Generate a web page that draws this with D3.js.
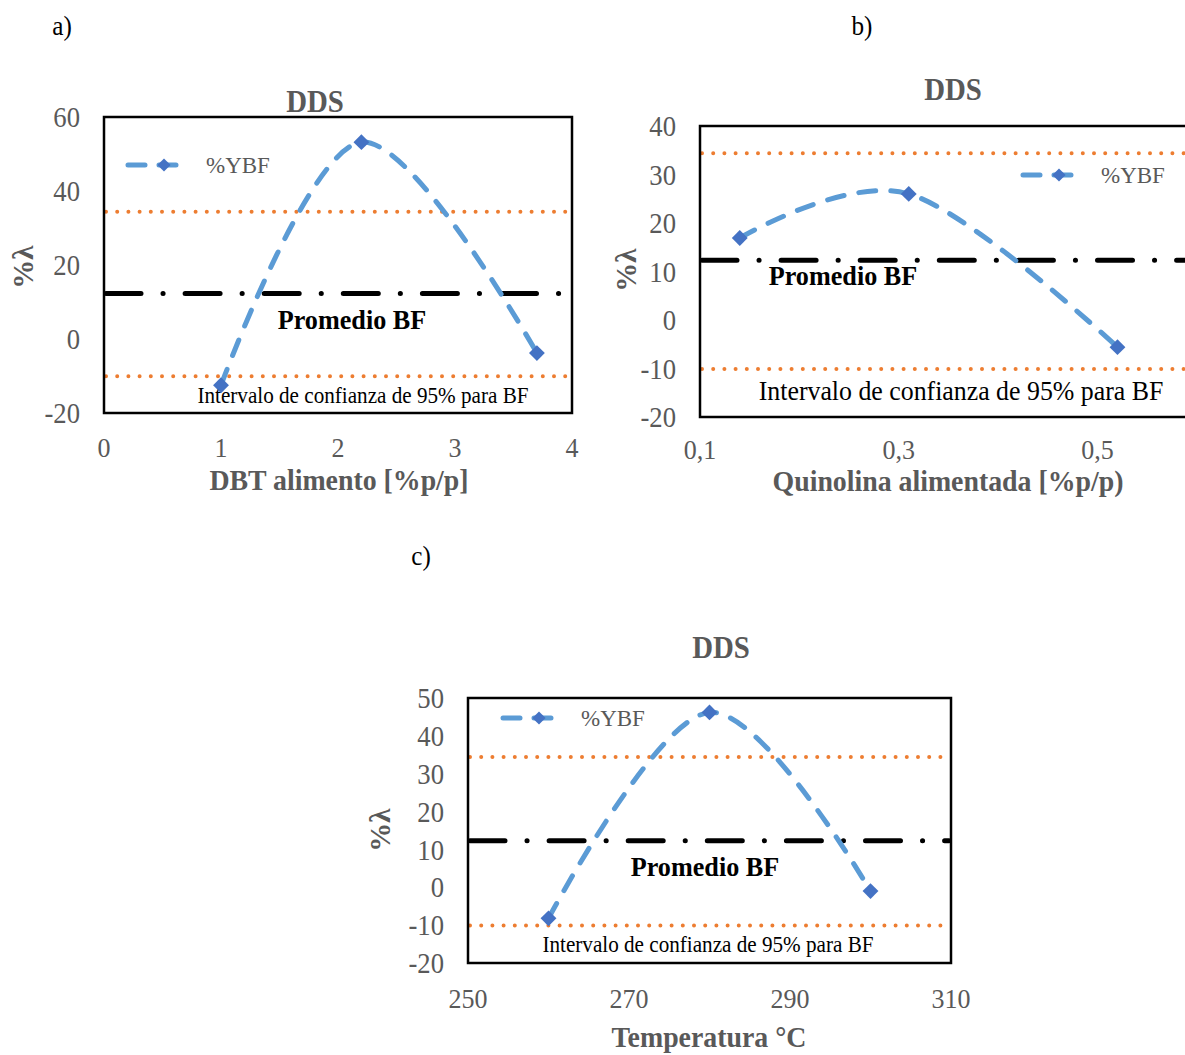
<!DOCTYPE html>
<html>
<head>
<meta charset="utf-8">
<script src="https://cdn.jsdelivr.net/npm/d3@7"></script>
<style>
  html, body { margin: 0; padding: 0; background: #fff; }
  svg { display: block; font-family: "Liberation Serif", "Times New Roman", serif; }
</style>
</head>
<body>
<svg id="chart" width="1185" height="1055"></svg>
<script>
// ---- data ----
// a) DBT in feed
const dbtFeed = [1, 2.2, 3.7];
const dbtYBF = [-12.5, 53.2, -3.8];
const dbtTicksX = [0, 1, 2, 3, 4];
const dbtTicksY = [-20, 0, 20, 40, 60];

// b) quinoline in feed
const quinFeed = [0.14, 0.31, 0.52];
const quinYBF = [16.9, 26, -5.6];
const quinTicksX = [0.1, 0.3, 0.5];
const quinTickLabelsX = ["0,1", "0,3", "0,5"];
const quinTicksY = [-20, -10, 0, 10, 20, 30, 40];

// c) temperature
const tempC = [260, 280, 300];
const tempYBF = [-8.2, 46.2, -1];
const tempTicksX = [250, 270, 290, 310];
const tempTicksY = [-20, -10, 0, 10, 20, 30, 40, 50];

// base-case (BF) mean and 95% confidence interval
const bfMean = 12.3;
const bfLow = -10.1;
const bfHigh = 34.4;

// ---- styles ----
const GRAY = "#595959";
const BLUE_LINE = "#5B9BD5";
const BLUE_MARK = "#4472C4";
const ORANGE = "#ED7D31";

const svg = d3.select("#chart");

// text helper: vertically centred on (x, y), optionally condensed horizontally
function label(parent, x, y, txt, o) {
  const sx = o.sx || 1;
  const rot = o.rotate ? " rotate(-90)" : "";
  return parent.append("text")
    .attr("transform", `translate(${x},${y})${rot} scale(${sx},1)`)
    .attr("dy", "0.35em")
    .attr("text-anchor", o.anchor || "middle")
    .attr("font-size", o.size)
    .attr("font-weight", o.bold ? "bold" : "normal")
    .attr("fill", o.fill || GRAY)
    .text(txt);
}

function panel(cfg) {
  const x = d3.scaleLinear().domain(cfg.xDomain).range([cfg.left, cfg.right]);
  const y = d3.scaleLinear().domain(cfg.yDomain).range([cfg.bottom, cfg.top]);
  const g = svg.append("g");

  // tick labels
  cfg.ticksY.forEach(d =>
    label(g, cfg.left - 24, y(d), d, { size: 29, sx: 0.92, anchor: "end" }));
  cfg.ticksX.forEach((d, i) =>
    label(g, x(d), cfg.bottom + cfg.xTickGap,
      cfg.tickLabelsX ? cfg.tickLabelsX[i] : d, { size: 28, sx: 0.93 }));

  // confidence interval (dotted orange)
  [bfLow, bfHigh].forEach(v => {
    g.append("line")
      .attr("x1", cfg.left + 2).attr("x2", cfg.right - 2)
      .attr("y1", y(v)).attr("y2", y(v))
      .attr("stroke", ORANGE).attr("stroke-width", 4)
      .attr("stroke-linecap", "round")
      .attr("stroke-dasharray", "0 11.2");
  });

  // BF mean (dash-dot black)
  g.append("line")
    .attr("x1", cfg.left + 2).attr("x2", cfg.right - 2)
    .attr("y1", y(bfMean)).attr("y2", y(bfMean))
    .attr("stroke", "#000").attr("stroke-width", 5)
    .attr("stroke-linecap", "round")
    .attr("stroke-dasharray", "35 22 0.1 22");

  // series: smoothed dashed line
  const pts = cfg.xs.map((d, i) => [d, cfg.ys[i]]);
  const line = d3.line()
    .x(d => x(d[0])).y(d => y(d[1]))
    .curve(d3.curveCardinal.tension(0));
  g.append("path")
    .attr("d", line(pts))
    .attr("fill", "none")
    .attr("stroke", BLUE_LINE).attr("stroke-width", 5)
    .attr("stroke-linecap", "round")
    .attr("stroke-dasharray", "17 15");

  // markers
  const diamond = d3.symbol().type(d3.symbolDiamond2).size(160);
  g.selectAll(".mk").data(pts).enter().append("path")
    .attr("d", diamond)
    .attr("transform", d => `translate(${x(d[0])},${y(d[1])})`)
    .attr("fill", BLUE_MARK);

  // plot frame
  g.append("rect")
    .attr("x", cfg.left).attr("y", cfg.top)
    .attr("width", cfg.right - cfg.left).attr("height", cfg.bottom - cfg.top)
    .attr("fill", "none").attr("stroke", "#000").attr("stroke-width", 2.5);

  // legend
  const L = cfg.legend;
  g.append("line")
    .attr("x1", L.x).attr("x2", L.x + 58).attr("y1", L.y).attr("y2", L.y)
    .attr("stroke", BLUE_LINE).attr("stroke-width", 5)
    .attr("stroke-linecap", "round").attr("stroke-dasharray", "17 14");
  g.append("path")
    .attr("d", d3.symbol().type(d3.symbolDiamond2).size(110)())
    .attr("transform", `translate(${L.x + 36},${L.y})`)
    .attr("fill", BLUE_MARK);
  label(g, L.x + 78, L.y, "%YBF", { size: 23, anchor: "start" });

  // annotations
  label(g, cfg.meanLabel[0], cfg.meanLabel[1], "Promedio BF",
    { size: 27, sx: 0.97, bold: true, fill: "#000" });
  label(g, cfg.ciLabel[0], cfg.ciLabel[1], "Intervalo de confianza de 95% para BF",
    { size: cfg.ciSize, sx: 0.94, fill: "#000" });

  // title and axis titles
  label(g, cfg.title[0], cfg.title[1], "DDS", { size: 31, sx: 0.93, bold: true });
  label(g, cfg.xTitle[0], cfg.xTitle[1], cfg.xLabel, { size: 29, sx: 0.96, bold: true });
  label(g, cfg.yTitle[0], cfg.yTitle[1], "%λ", { size: 29, bold: true, rotate: true });

  // panel letter
  label(svg, cfg.letter[0], cfg.letter[1], cfg.letterText, { size: 28, sx: 0.9, fill: "#000" });
}

panel({
  xs: dbtFeed, ys: dbtYBF,
  xDomain: [0, 4], yDomain: [-20, 60],
  ticksX: dbtTicksX, ticksY: dbtTicksY,
  left: 104, right: 572, top: 117, bottom: 413, xTickGap: 34,
  legend: { x: 128, y: 165 },
  meanLabel: [352, 320], ciLabel: [363, 395], ciSize: 22.5,
  title: [315, 101], xTitle: [339, 479.5], yTitle: [23, 267],
  xLabel: "DBT alimento [%p/p]",
  letter: [62, 25], letterText: "a)"
});

panel({
  xs: quinFeed, ys: quinYBF,
  xDomain: [0.1, 0.6], yDomain: [-20, 40],
  ticksX: quinTicksX, tickLabelsX: quinTickLabelsX, ticksY: quinTicksY,
  left: 700, right: 1197, top: 126, bottom: 417, xTickGap: 32,
  legend: { x: 1023, y: 175 },
  meanLabel: [843, 276], ciLabel: [961, 390], ciSize: 27.5,
  title: [953, 89], xTitle: [948, 481], yTitle: [626, 270],
  xLabel: "Quinolina alimentada [%p/p)",
  letter: [862, 25], letterText: "b)"
});

panel({
  xs: tempC, ys: tempYBF,
  xDomain: [250, 310], yDomain: [-20, 50],
  ticksX: tempTicksX, ticksY: tempTicksY,
  left: 468, right: 951, top: 698, bottom: 963, xTickGap: 35,
  legend: { x: 503, y: 718 },
  meanLabel: [705, 867], ciLabel: [708, 944], ciSize: 22.5,
  title: [721, 647], xTitle: [709, 1037], yTitle: [380, 830],
  xLabel: "Temperatura °C",
  letter: [421, 555], letterText: "c)"
});
</script>
</body>
</html>
